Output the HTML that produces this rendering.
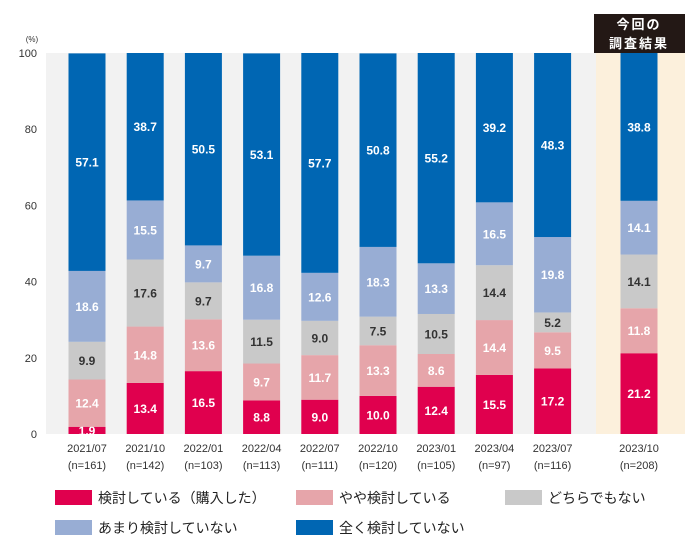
<!DOCTYPE html>
<html><head><meta charset="utf-8"><style>
body{margin:0;background:#fff;width:700px;height:550px;overflow:hidden;font-family:"Liberation Sans","Noto Sans CJK JP",sans-serif}
</style></head><body>
<svg id="chart" width="700" height="550" xmlns="http://www.w3.org/2000/svg" font-family="Liberation Sans, Noto Sans CJK JP, sans-serif"></svg>
<script>
const categories=["2021/07","2021/10","2022/01","2022/04","2022/07","2022/10","2023/01","2023/04","2023/07","2023/10"];
const sampleSizes=["(n=161)","(n=142)","(n=103)","(n=113)","(n=111)","(n=120)","(n=105)","(n=97)","(n=116)","(n=208)"];
const seriesNames=["検討している（購入した）","やや検討している","どちらでもない","あまり検討していない","全く検討していない"];
const considering=[1.9,13.4,16.5,8.8,9.0,10.0,12.4,15.5,17.2,21.2];
const somewhat=[12.4,14.8,13.6,9.7,11.7,13.3,8.6,14.4,9.5,11.8];
const neutral=[9.9,17.6,9.7,11.5,9.0,7.5,10.5,14.4,5.2,14.1];
const notMuch=[18.6,15.5,9.7,16.8,12.6,18.3,13.3,16.5,19.8,14.1];
const notAtAll=[57.1,38.7,50.5,53.1,57.7,50.8,55.2,39.2,48.3,38.8];
const yTicks=[0,20,40,60,80,100];
const series=[considering,somewhat,neutral,notMuch,notAtAll];
const colors=["#e0004e","#e6a5aa","#c9c9c9","#98add4","#0066b3"];
const seriesKeys=["considering","somewhat","neutral","not-much","not-at-all"];
const svg=document.getElementById('chart');
const NS="http://www.w3.org/2000/svg";
function el(t,a,p){const e=document.createElementNS(NS,t);for(const k in a)e.setAttribute(k,a[k]);(p||svg).appendChild(e);return e;}
const y0=434,y1=53;
const yScale=v=>y0-(v/100)*(y0-y1);
const xCenter=i=>i<9?87+i*58.2:639;
const bw=37;
// backgrounds
const bg=el('rect',{x:46,y:y1,width:550,height:y0-y1,fill:'#f2f2f2'});


const hl=el('rect',{x:596,y:y1,width:89,height:y0-y1,fill:'#fcf0dc'});


const box=el('rect',{x:594,y:14,width:91,height:39,fill:'#231815'});


const t1=el('text',{x:639,y:29,fill:'#fff','font-size':13,'font-weight':'bold','text-anchor':'middle','letter-spacing':'2'});t1.textContent='今回の';


const t2=el('text',{x:639,y:48,fill:'#fff','font-size':13,'font-weight':'bold','text-anchor':'middle','letter-spacing':'2'});t2.textContent='調査結果';


const pct=el('text',{x:32,y:42,'font-size':8,fill:'#333','text-anchor':'middle'});pct.textContent='(%)';


yTicks.forEach(v=>{const t=el('text',{x:37,y:yScale(v)+4,'font-size':11,fill:'#333','text-anchor':'end'});t.textContent=v;

});
categories.forEach((c,i)=>{
  let cum=0;const cx=xCenter(i);
  series.forEach((s,k)=>{
    const v=s[i];const top=yScale(cum+v),bot=yScale(cum);
    const r=el('rect',{x:cx-bw/2,y:top,width:bw,height:bot-top,fill:colors[k]});
    
    
    const t=el('text',{x:cx,y:(top+bot)/2+4.5,'font-size':12,'font-weight':'bold',fill:k==2?'#333':'#fff','text-anchor':'middle'});
    t.textContent=v.toFixed(1);
    
    
    cum+=v;
  });
  const a=el('text',{x:cx,y:452,'font-size':11,fill:'#333','text-anchor':'middle'});a.textContent=c;
  
  
  const b=el('text',{x:cx,y:469,'font-size':11,fill:'#333','text-anchor':'middle'});b.textContent=sampleSizes[i];
  
  
});
const legPos=[[55,490],[296,490],[505,490],[55,520],[296,520]];
seriesNames.forEach((n,k)=>{
  const [lx,ly]=legPos[k];
  const g=el('g',{});
  
  
  el('rect',{x:lx,y:ly,width:37,height:15,fill:colors[k]},g);
  const t=el('text',{x:lx+43,y:ly+13,'font-size':14,fill:'#222'},g);t.textContent=n;
});
</script>
</body></html>
